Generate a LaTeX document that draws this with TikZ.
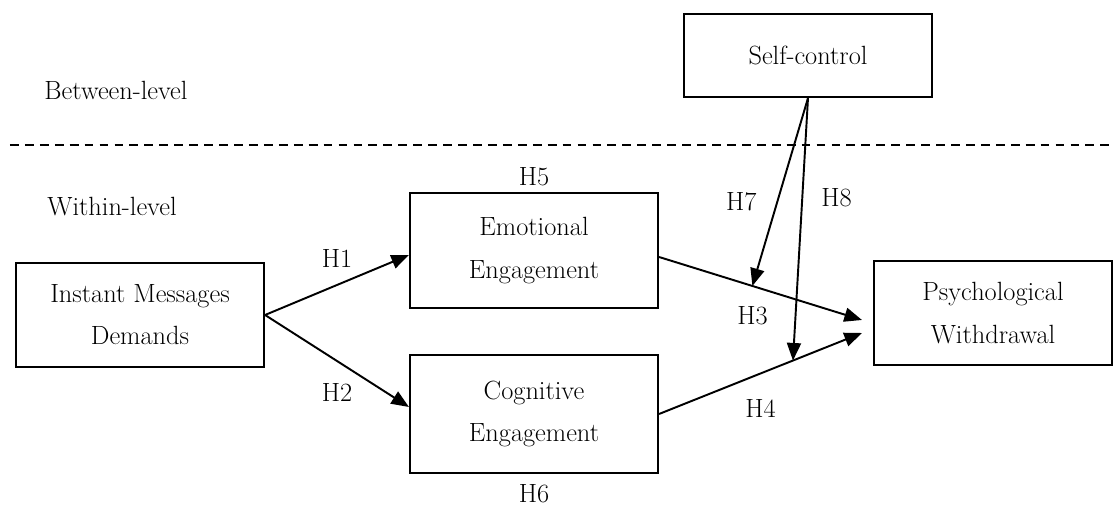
\documentclass[tikz,border=0pt]{standalone}
\usepackage{tikz}
\usetikzlibrary{arrows.meta}
\usetikzlibrary{positioning}
\tikzset{
varbox/.style={draw, line width=1.2pt, minimum width=4.96cm, align=center},
hyp/.style={-{Triangle[length=10pt,width=8pt]}, line width=1.1pt}
}

\begin{document}
\begin{tikzpicture}[font=\fontsize{15}{24}\selectfont]
    \useasboundingbox (0,0) rectangle (22.3,10.14);

                \node[varbox, minimum height=1.66cm] (S) at (16.16,9.03) {Self-control};
                \node[varbox, minimum height=2.08cm] (I) at (2.8,3.84) {Instant Messages\\Demands};
                \node[varbox, minimum height=2.3cm] (E) at (10.68,5.13) {Emotional\\Engagement};
                \node[varbox, minimum height=2.36cm] (C) at (10.68,1.86) {Cognitive\\Engagement};
                \node[varbox, minimum height=2.08cm, minimum width=4.76cm] (P) at (19.86,3.88) {Psychological\\Withdrawal};

                \node (between) at (2.32,8.34) {Between-level};
                \node (within) at (2.24,6.0) {Within-level};
                \node[above=0pt of E] (h5) {H5};
                \node[below=2.4pt of C] (h6) {H6};

                \draw[dash pattern=on 5pt off 3.5pt, line width=0.9pt] (0.2,7.24) -- (22.3,7.24);

                \draw[hyp] (I.east) -- ([yshift=-0.09cm]E.west) node[midway, above=6pt] (h1) {H1};
                \draw[hyp] (I.east) -- ([yshift=0.14cm]C.west) node[midway, below=8.7pt] (h2) {H2};
                \draw[hyp] ([yshift=-0.13cm]E.east) -- ([xshift=-0.22cm,yshift=-0.14cm]P.west) coordinate[pos=0.46] (m3) node[midway, below=6.4pt, xshift=-4.5pt] (h3) {H3};
                \draw[hyp] (C.east) -- ([xshift=-0.22cm,yshift=-0.4cm]P.west) coordinate[pos=0.66] (m4) node[midway, below=11pt] (h4) {H4};
                \draw[hyp] (S.south) -- (m3) node[pos=0.55, left=8pt] (h7) {H7};
                \draw[hyp] (S.south) -- (m4) node[pos=0.38, right=7pt] (h8) {H8};

\end{tikzpicture}
\end{document}
